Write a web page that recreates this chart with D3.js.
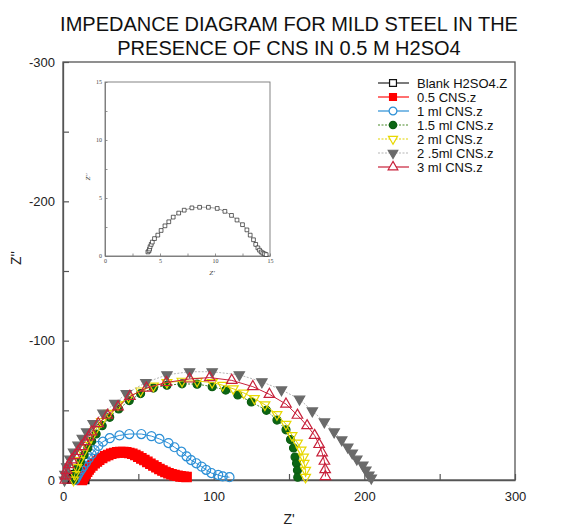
<!DOCTYPE html>
<html>
<head>
<meta charset="utf-8">
<script src="https://cdn.jsdelivr.net/npm/d3@7"></script>
<style>
  body { margin: 0; background: #fff; }
  svg { display: block; font-family: "Liberation Sans", Arial, sans-serif; }
</style>
</head>
<body>
<svg id="chart" width="572" height="528"></svg>
<script>
// ---- data ----
const titleLines = ["IMPEDANCE DIAGRAM FOR MILD STEEL IN THE", "PRESENCE OF CNS IN 0.5 M H2SO4"];
const xTicks = [0, 50, 100, 150, 200, 250, 300];
const yTicks = [0, -50, -100, -150, -200, -250, -300];
const insetTicks = [0, 2.5, 5, 7.5, 10, 12.5, 15];
const seriesNames = ["Blank H2SO4.Z", "0.5 CNS.z", "1 ml CNS.z", "1.5 ml CNS.z", "2 ml CNS.z", "2 .5ml CNS.z", "3 ml CNS.z"];

// [Z', Z''] pairs for each solution
const blank = [[3.9,-0.35],[4.0,-0.45],[4.05,-0.6],[4.1,-0.8],[4.2,-1.0],[4.3,-1.2],[4.5,-1.5],[4.8,-1.8],[5.1,-2.2],[5.45,-2.6],[5.8,-2.95],[6.2,-3.35],[6.7,-3.7],[7.2,-3.95],[7.9,-4.15],[8.6,-4.2],[9.4,-4.2],[10.2,-4.1],[10.9,-3.85],[11.5,-3.5],[12.0,-3.1],[12.5,-2.7],[12.9,-2.25],[13.2,-1.8],[13.5,-1.4],[13.7,-1.0],[13.9,-0.7],[14.05,-0.5],[14.2,-0.35],[14.35,-0.25],[14.5,-0.18],[14.65,-0.12]];
const cns05 = [[12.5,0],[13,-1],[13.5,-2],[14,-3],[15,-4.5],[16,-6],[17,-7.5],[18,-9],[19.5,-10.5],[21,-12],[22.5,-13.3],[24,-14.5],[26,-15.8],[28,-17],[30,-18],[32,-18.8],[34,-19.4],[36,-19.8],[38,-20],[40,-20],[42,-19.8],[44,-19.4],[46,-18.8],[48,-18],[50,-16.8],[52,-15.5],[54,-14.3],[56,-13],[58,-11.7],[60,-10.4],[62,-9.1],[64,-7.9],[66,-6.8],[68,-5.8],[70,-4.9],[72,-4.1],[74,-3.5],[76,-3.0],[78,-2.6],[80,-2.3],[82,-2.1]];
const cns1 = [[8,0],[8.5,-1.2],[9.2,-2.5],[10,-4],[11,-5.8],[12.2,-7.8],[13.6,-10],[15.2,-12.5],[17,-15.5],[19,-18.5],[21,-21.5],[23.5,-24.5],[26.5,-27.5],[31,-30],[37.5,-32],[44,-33],[52,-33],[58.7,-31.5],[64,-29.5],[70,-26.5],[74,-23.5],[78.6,-20.3],[82,-17],[85,-14.3],[88.5,-12],[92,-9.6],[95,-7.3],[98.5,-5],[103,-3.6],[106,-2.6],[110.5,-2]];
const cns15 = [[7,0],[8,-4],[9.5,-8.5],[11.5,-13],[14,-18],[16.5,-23],[19,-28],[22,-33],[26,-39],[31,-45],[37,-51],[44,-57],[51.5,-62],[60,-66],[69,-68],[79,-69],[89,-68.8],[99,-67],[108,-64.5],[116,-61],[125,-56],[135,-50],[142,-43],[148,-36],[151,-29],[153,-23],[154,-16.5],[155,-12],[155.6,-7],[155.8,-2]];
const cns2 = [[7,0],[7.8,-4],[9.2,-9],[11,-14],[13.3,-19.5],[15.8,-25],[18.5,-30.5],[21.5,-36],[25.5,-42],[30.5,-48],[36.5,-54],[43.5,-59.5],[51.5,-64],[60,-67.5],[69,-70],[79,-71],[89,-71],[99,-70],[106,-68],[113,-65.5],[120,-62.5],[127,-58.5],[134,-54],[142,-47],[148,-40],[152,-32],[155.6,-26.6],[158,-21.6],[159.6,-16.5],[160,-12],[161,-7],[161,-2]];
const cns25 = [[1,0],[1.3,-4],[2.5,-9.5],[4.6,-15],[7,-20],[10,-25],[12.8,-30],[15.7,-34.5],[20,-40.5],[26.5,-48],[34.4,-55],[42,-62],[55,-70],[69,-75.5],[84,-77.7],[99,-77.7],[117,-75.5],[132,-70.5],[145,-64.7],[157,-58],[165.5,-49.6],[173.5,-41.7],[180,-34.5],[185,-28.8],[189,-23.7],[192,-19.4],[195,-15],[199,-10.8],[201,-7.2],[203,-3.6],[204.6,-1.4]];
const cns3 = [[1.5,0],[1.8,-3],[2.4,-7],[3.8,-11],[5.8,-14.5],[8,-17.5],[10,-20.5],[12.3,-24],[14.6,-27.5],[17,-31],[19,-34.5],[23.4,-40.5],[29.5,-46.5],[36.5,-52.5],[44.4,-60],[55.4,-66],[68.6,-70],[84,-72.5],[97.4,-73.5],[112,-71.5],[126,-67],[137,-61.5],[148,-54.5],[155.6,-46.5],[162,-39],[167,-32],[170,-25.5],[172,-19.5],[173.5,-13.5],[174,-7.5],[174.2,-2.5]];

// ---- styles ----
const styles = [
  { data: blank, line: "#222", stroke: "#111", fill: "none", sym: d3.symbolSquare, size: 56, rot: 0, dash: null },
  { data: cns05, line: "#ff1010", stroke: "#ff0000", fill: "#ff0000", sym: d3.symbolSquare, size: 88, rot: 0, dash: null },
  { data: cns1, line: "#2b8fd6", stroke: "#2b8fd6", fill: "none", sym: d3.symbolCircle, size: 64, rot: 0, dash: null },
  { data: cns15, line: "#4a8a2a", stroke: "#0c5d12", fill: "#0c6614", sym: d3.symbolCircle, size: 50, rot: 0, dash: "2,1.5" },
  { data: cns2, line: "#e2d400", stroke: "#e8d800", fill: "none", sym: d3.symbolTriangle, size: 42, rot: 180, dash: null },
  { data: cns25, line: "#b5b5b5", stroke: "#6a6a6a", fill: "#6a6a6a", sym: d3.symbolTriangle, size: 46, rot: 180, dash: "2,1.5" },
  { data: cns3, line: "#c8203a", stroke: "#c8203a", fill: "none", sym: d3.symbolTriangle, size: 48, rot: 0, dash: null }
];
const legendDash = [null, null, null, "2,1.5", "2,1.5", "2,1.5", null];

const svg = d3.select("#chart");
const plot = { left: 63, right: 515, top: 62, bottom: 480 };

const x = d3.scaleLinear().domain([0, 300]).range([plot.left, plot.right]);
const y = d3.scaleLinear().domain([0, -300]).range([plot.bottom, plot.top]);

// title
svg.selectAll("text.title").data(titleLines).join("text")
  .attr("class", "title")
  .attr("x", 289).attr("y", (d, i) => 31 + i * 24)
  .attr("text-anchor", "middle")
  .attr("font-size", 20)
  .attr("fill", "#111")
  .text(d => d);

// frame
svg.append("rect")
  .attr("x", plot.left).attr("y", plot.top)
  .attr("width", plot.right - plot.left).attr("height", plot.bottom - plot.top)
  .attr("fill", "none").attr("stroke", "#555").attr("stroke-width", 1.3);

// axes with inward ticks
const xAxis = d3.axisBottom(x).tickValues(xTicks).tickSizeInner(-6).tickSizeOuter(0).tickPadding(12)
  .tickFormat(d => d % 100 === 0 ? d : "");
const yAxis = d3.axisLeft(y).tickValues(yTicks).tickSizeInner(-6).tickSizeOuter(0).tickPadding(8)
  .tickFormat(d => d % 100 === 0 ? d : "");

const gx = svg.append("g").attr("transform", `translate(0,${plot.bottom})`).call(xAxis);
const gy = svg.append("g").attr("transform", `translate(${plot.left},0)`).call(yAxis);
[gx, gy].forEach(g => {
  g.select(".domain").attr("stroke", "#555").attr("stroke-width", 1.3);
  g.selectAll(".tick line").attr("stroke", "#555").attr("stroke-width", 1.2);
  g.selectAll(".tick text").attr("font-size", 13).attr("fill", "#222")
    .attr("font-family", "'Liberation Sans', Arial, sans-serif");
});

// axis titles
svg.append("text").attr("x", 289).attr("y", 524).attr("text-anchor", "middle")
  .attr("font-size", 14).attr("fill", "#222").text("Z'");
svg.append("text").attr("transform", "translate(21,258) rotate(-90)").attr("text-anchor", "middle")
  .attr("font-size", 14).attr("fill", "#222").text("Z''");

// series (blank first so the inhibited curves sit on top of it)
const line = d3.line().x(d => x(d[0])).y(d => y(d[1]));
styles.forEach(s => {
  const g = svg.append("g");
  g.append("path").datum(s.data).attr("d", line)
    .attr("fill", "none").attr("stroke", s.line).attr("stroke-width", 1)
    .attr("stroke-dasharray", s.dash);
  g.selectAll("path.m").data(s.data).join("path").attr("class", "m")
    .attr("d", d3.symbol().type(s.sym).size(s.size))
    .attr("transform", d => `translate(${x(d[0])},${y(d[1])}) rotate(${s.rot})`)
    .attr("fill", s.fill).attr("stroke", s.stroke).attr("stroke-width", 1.2);
});

// legend
const lg = svg.append("g");
seriesNames.forEach((name, i) => {
  const s = styles[i];
  const ly = 83 + i * 14;
  lg.append("line").attr("x1", 378).attr("x2", 409).attr("y1", ly).attr("y2", ly)
    .attr("stroke", s.line).attr("stroke-width", 1.2).attr("stroke-dasharray", legendDash[i]);
  lg.append("path").attr("d", d3.symbol().type(s.sym).size(Math.min(s.size, 56) * 0.85))
    .attr("transform", `translate(393,${ly}) rotate(${s.rot})`)
    .attr("fill", s.fill === "none" ? "#fff" : s.fill).attr("stroke", s.stroke).attr("stroke-width", 1.2);
  lg.append("text").attr("x", 417).attr("y", ly).attr("dy", "0.36em")
    .attr("font-size", 13).attr("fill", "#111").text(name);
});

// inset: blank solution on an enlarged scale
const ix = d3.scaleLinear().domain([0, 15]).range([105, 270]);
const iy = d3.scaleLinear().domain([0, -15]).range([256, 82]);
const inset = svg.append("g");
inset.append("rect").attr("x", 105).attr("y", 82).attr("width", 165).attr("height", 174)
  .attr("fill", "#fff").attr("stroke", "#777").attr("stroke-width", 0.9);
const ixAxis = d3.axisBottom(ix).tickValues(insetTicks).tickSizeInner(-2.5).tickSizeOuter(0).tickPadding(3)
  .tickFormat(d => d % 5 === 0 ? d : "");
const iyAxis = d3.axisLeft(iy).tickValues(insetTicks.map(v => -v)).tickSizeInner(-2.5).tickSizeOuter(0).tickPadding(3)
  .tickFormat(d => Math.abs(d) % 5 === 0 ? Math.abs(d) : "");
const gix = inset.append("g").attr("transform", "translate(0,256)").call(ixAxis);
const giy = inset.append("g").attr("transform", "translate(105,0)").call(iyAxis);
[gix, giy].forEach(g => {
  g.select(".domain").attr("stroke", "#777").attr("stroke-width", 0.9);
  g.selectAll(".tick line").attr("stroke", "#777").attr("stroke-width", 0.8);
  g.selectAll(".tick text").attr("font-size", 6).attr("fill", "#444")
    .attr("font-family", "'Liberation Serif', serif");
});
inset.append("text").attr("x", 212).attr("y", 275).attr("text-anchor", "middle")
  .attr("font-size", 7).attr("font-style", "italic").attr("fill", "#333")
  .attr("font-family", "'Liberation Serif', serif").text("Z'");
inset.append("text").attr("transform", "translate(90,177) rotate(-90)").attr("text-anchor", "middle")
  .attr("font-size", 7).attr("font-style", "italic").attr("fill", "#333")
  .attr("font-family", "'Liberation Serif', serif").text("Z''");
const iline = d3.line().x(d => ix(d[0])).y(d => iy(d[1]));
inset.append("path").datum(blank).attr("d", iline)
  .attr("fill", "none").attr("stroke", "#777").attr("stroke-width", 0.7);
inset.selectAll("path.im").data(blank).join("path").attr("class", "im")
  .attr("d", d3.symbol().type(d3.symbolSquare).size(14))
  .attr("transform", d => `translate(${ix(d[0])},${iy(d[1])})`)
  .attr("fill", "#fff").attr("stroke", "#222").attr("stroke-width", 0.7);
</script>
</body>
</html>
